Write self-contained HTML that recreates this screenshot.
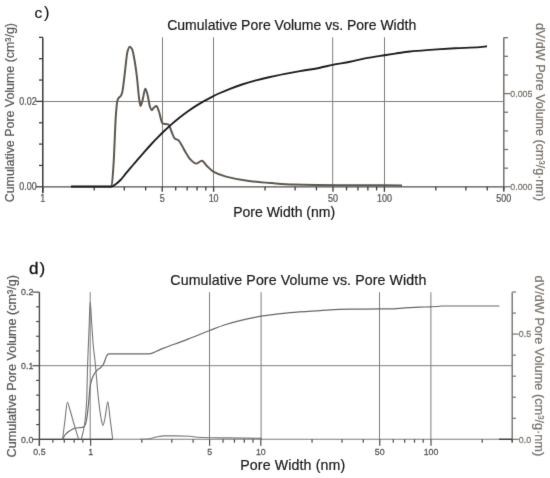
<!DOCTYPE html>
<html><head><meta charset="utf-8"><style>
html,body{margin:0;padding:0;background:#fff;}
svg{display:block;font-family:"Liberation Sans", sans-serif;}
</style></head><body>
<svg width="550" height="478" viewBox="0 0 550 478">
<defs><filter id="b" x="0" y="0" width="550" height="478" filterUnits="userSpaceOnUse" color-interpolation-filters="sRGB"><feConvolveMatrix order="3" kernelMatrix="1 10 1 10 100 10 1 10 1" divisor="144" edgeMode="duplicate"/></filter></defs>
<g filter="url(#b)">
<rect width="550" height="478" fill="#fff"/>
<line x1="162.50" y1="37.40" x2="162.50" y2="186.80" stroke="#7e7e7e" stroke-width="1"/>
<line x1="213.50" y1="37.40" x2="213.50" y2="186.80" stroke="#7e7e7e" stroke-width="1"/>
<line x1="332.70" y1="37.40" x2="332.70" y2="186.80" stroke="#7e7e7e" stroke-width="1"/>
<line x1="384.50" y1="37.40" x2="384.50" y2="186.80" stroke="#7e7e7e" stroke-width="1"/>
<line x1="42.80" y1="101.50" x2="503.80" y2="101.50" stroke="#7e7e7e" stroke-width="1"/>
<line x1="42.80" y1="37.40" x2="42.80" y2="193.30" stroke="#3a3a3a" stroke-width="1.5"/>
<line x1="35.80" y1="186.80" x2="42.80" y2="186.80" stroke="#3a3a3a" stroke-width="1.3"/>
<line x1="39.00" y1="165.45" x2="42.80" y2="165.45" stroke="#3a3a3a" stroke-width="1.3"/>
<line x1="39.00" y1="144.10" x2="42.80" y2="144.10" stroke="#3a3a3a" stroke-width="1.3"/>
<line x1="39.00" y1="122.75" x2="42.80" y2="122.75" stroke="#3a3a3a" stroke-width="1.3"/>
<line x1="35.80" y1="101.40" x2="42.80" y2="101.40" stroke="#3a3a3a" stroke-width="1.3"/>
<line x1="39.00" y1="80.05" x2="42.80" y2="80.05" stroke="#3a3a3a" stroke-width="1.3"/>
<line x1="39.00" y1="58.70" x2="42.80" y2="58.70" stroke="#3a3a3a" stroke-width="1.3"/>
<line x1="39.00" y1="37.35" x2="42.80" y2="37.35" stroke="#3a3a3a" stroke-width="1.3"/>
<line x1="503.80" y1="37.40" x2="503.80" y2="189.80" stroke="#77716b" stroke-width="1.5"/>
<line x1="503.80" y1="186.80" x2="510.30" y2="186.80" stroke="#77716b" stroke-width="1.3"/>
<line x1="503.80" y1="168.16" x2="508.00" y2="168.16" stroke="#77716b" stroke-width="1.3"/>
<line x1="503.80" y1="149.52" x2="508.00" y2="149.52" stroke="#77716b" stroke-width="1.3"/>
<line x1="503.80" y1="130.88" x2="508.00" y2="130.88" stroke="#77716b" stroke-width="1.3"/>
<line x1="503.80" y1="112.24" x2="508.00" y2="112.24" stroke="#77716b" stroke-width="1.3"/>
<line x1="503.80" y1="93.60" x2="510.30" y2="93.60" stroke="#77716b" stroke-width="1.3"/>
<line x1="503.80" y1="74.96" x2="508.00" y2="74.96" stroke="#77716b" stroke-width="1.3"/>
<line x1="503.80" y1="56.32" x2="508.00" y2="56.32" stroke="#77716b" stroke-width="1.3"/>
<line x1="503.80" y1="37.68" x2="508.00" y2="37.68" stroke="#77716b" stroke-width="1.3"/>
<line x1="42.80" y1="186.80" x2="503.80" y2="186.80" stroke="#505050" stroke-width="1.25"/>
<line x1="42.80" y1="186.80" x2="42.80" y2="191.80" stroke="#3a3a3a" stroke-width="1.3"/>
<line x1="94.22" y1="186.80" x2="94.22" y2="190.40" stroke="#3a3a3a" stroke-width="1.3"/>
<line x1="124.30" y1="186.80" x2="124.30" y2="190.40" stroke="#3a3a3a" stroke-width="1.3"/>
<line x1="145.64" y1="186.80" x2="145.64" y2="190.40" stroke="#3a3a3a" stroke-width="1.3"/>
<line x1="162.19" y1="186.80" x2="162.19" y2="191.80" stroke="#3a3a3a" stroke-width="1.3"/>
<line x1="175.71" y1="186.80" x2="175.71" y2="190.40" stroke="#3a3a3a" stroke-width="1.3"/>
<line x1="187.15" y1="186.80" x2="187.15" y2="190.40" stroke="#3a3a3a" stroke-width="1.3"/>
<line x1="197.05" y1="186.80" x2="197.05" y2="190.40" stroke="#3a3a3a" stroke-width="1.3"/>
<line x1="205.79" y1="186.80" x2="205.79" y2="190.40" stroke="#3a3a3a" stroke-width="1.3"/>
<line x1="213.61" y1="186.80" x2="213.61" y2="191.80" stroke="#3a3a3a" stroke-width="1.3"/>
<line x1="265.02" y1="186.80" x2="265.02" y2="190.40" stroke="#3a3a3a" stroke-width="1.3"/>
<line x1="295.10" y1="186.80" x2="295.10" y2="190.40" stroke="#3a3a3a" stroke-width="1.3"/>
<line x1="316.44" y1="186.80" x2="316.44" y2="190.40" stroke="#3a3a3a" stroke-width="1.3"/>
<line x1="332.99" y1="186.80" x2="332.99" y2="191.80" stroke="#3a3a3a" stroke-width="1.3"/>
<line x1="346.52" y1="186.80" x2="346.52" y2="190.40" stroke="#3a3a3a" stroke-width="1.3"/>
<line x1="357.95" y1="186.80" x2="357.95" y2="190.40" stroke="#3a3a3a" stroke-width="1.3"/>
<line x1="367.86" y1="186.80" x2="367.86" y2="190.40" stroke="#3a3a3a" stroke-width="1.3"/>
<line x1="376.60" y1="186.80" x2="376.60" y2="190.40" stroke="#3a3a3a" stroke-width="1.3"/>
<line x1="384.41" y1="186.80" x2="384.41" y2="191.80" stroke="#3a3a3a" stroke-width="1.3"/>
<line x1="435.83" y1="186.80" x2="435.83" y2="190.40" stroke="#3a3a3a" stroke-width="1.3"/>
<line x1="465.91" y1="186.80" x2="465.91" y2="190.40" stroke="#3a3a3a" stroke-width="1.3"/>
<line x1="487.25" y1="186.80" x2="487.25" y2="190.40" stroke="#3a3a3a" stroke-width="1.3"/>
<line x1="503.80" y1="186.80" x2="503.80" y2="191.80" stroke="#3a3a3a" stroke-width="1.3"/>
<text transform="translate(42.80,201.60) scale(0.88,1)" font-size="10.2" fill="#555" stroke="#555" stroke-width="0.25" text-anchor="middle">1</text>
<text transform="translate(162.19,201.60) scale(0.88,1)" font-size="10.2" fill="#555" stroke="#555" stroke-width="0.25" text-anchor="middle">5</text>
<text transform="translate(213.61,201.60) scale(0.88,1)" font-size="10.2" fill="#555" stroke="#555" stroke-width="0.25" text-anchor="middle">10</text>
<text transform="translate(332.99,201.60) scale(0.88,1)" font-size="10.2" fill="#555" stroke="#555" stroke-width="0.25" text-anchor="middle">50</text>
<text transform="translate(384.41,201.60) scale(0.88,1)" font-size="10.2" fill="#555" stroke="#555" stroke-width="0.25" text-anchor="middle">100</text>
<text transform="translate(503.80,201.60) scale(0.88,1)" font-size="10.2" fill="#555" stroke="#555" stroke-width="0.25" text-anchor="middle">500</text>
<text transform="translate(36.80,105.00) scale(0.88,1)" font-size="10.2" fill="#555" stroke="#555" stroke-width="0.25" text-anchor="end">0.02</text>
<text transform="translate(36.80,190.40) scale(0.88,1)" font-size="10.2" fill="#555" stroke="#555" stroke-width="0.25" text-anchor="end">0.00</text>
<text transform="translate(510.30,96.90) scale(0.95,1)" font-size="9.3" fill="#77716b" stroke="#77716b" stroke-width="0.25">0.005</text>
<text transform="translate(510.30,190.10) scale(0.95,1)" font-size="9.3" fill="#77716b" stroke="#77716b" stroke-width="0.25">0.000</text>
<text x="167.20" y="30.40" font-size="14" fill="#1a1a1a" stroke="#1a1a1a" stroke-width="0.2">Cumulative Pore Volume vs. Pore Width</text>
<text x="233.20" y="216.90" font-size="14" fill="#1a1a1a" stroke="#1a1a1a" stroke-width="0.2">Pore Width (nm)</text>
<text x="34.40" y="17.80" font-size="15.5" fill="#111" stroke="#111" stroke-width="0.15">c</text>
<text x="44.00" y="18.10" font-size="16.5" fill="#111" stroke="#111" stroke-width="0.1">)</text>
<text transform="translate(13.9,202.3) rotate(-90) scale(1.018,1)" x="0" y="0" font-size="12.2" fill="#555" stroke="#555" stroke-width="0.2">Cumulative Pore Volume (cm³/g)</text>
<text transform="translate(536.2,23.0) rotate(90) scale(1.03,1)" x="0" y="0" font-size="12.2" fill="#77716b" stroke="#77716b" stroke-width="0.2">dV/dW Pore Volume (cm³/g·nm)</text>
<path d="M71.00,186.50 C84.50,186.50 98.00,186.50 111.50,186.50 C112.17,186.50 112.83,174.37 113.50,165.00 C114.30,153.76 115.10,125.34 115.90,114.90 C116.37,108.81 116.83,102.63 117.30,101.00 C117.87,99.03 118.43,98.18 119.00,97.50 C119.60,96.79 120.20,96.77 120.80,96.00 C121.30,95.35 121.80,93.92 122.30,92.00 C122.87,89.83 123.43,84.43 124.00,80.00 C124.53,75.83 125.07,70.40 125.60,66.00 C126.20,61.05 126.80,54.09 127.40,52.00 C128.20,49.21 129.00,46.80 129.80,46.80 C130.53,46.80 131.27,47.82 132.00,49.00 C132.80,50.29 133.60,55.22 134.40,59.50 C135.20,63.78 136.00,69.59 136.80,76.00 C137.60,82.41 138.40,93.88 139.20,99.00 C139.67,101.98 140.13,106.00 140.60,106.00 C141.23,106.00 141.87,102.64 142.50,100.50 C143.43,97.34 144.37,88.80 145.30,88.80 C146.07,88.80 146.83,92.32 147.60,95.00 C148.40,97.80 149.20,104.82 150.00,107.00 C150.57,108.55 151.13,110.30 151.70,110.30 C152.47,110.30 153.23,108.13 154.00,107.50 C154.80,106.84 155.60,106.00 156.40,106.00 C157.20,106.00 158.00,108.99 158.80,111.00 C160.07,114.18 161.33,123.10 162.60,123.50 C164.53,124.11 166.47,123.78 168.40,124.40 C169.43,124.73 170.47,129.16 171.50,131.50 C172.50,133.76 173.50,137.32 174.50,138.20 C175.83,139.37 177.17,139.24 178.50,140.30 C179.67,141.23 180.83,143.85 182.00,145.80 C183.33,148.03 184.67,150.82 186.00,153.00 C187.33,155.18 188.67,157.63 190.00,159.00 C192.03,161.09 194.07,163.60 196.10,163.60 C198.00,163.60 199.90,160.80 201.80,160.80 C203.53,160.80 205.27,164.37 207.00,166.00 C209.10,167.98 211.20,170.40 213.30,171.60 C217.53,174.01 221.77,175.47 226.00,176.60 C233.67,178.64 241.33,180.05 249.00,181.00 C256.67,181.95 264.33,182.51 272.00,183.10 C279.00,183.64 286.00,184.27 293.00,184.50 C300.67,184.75 308.33,184.91 316.00,185.00 C324.00,185.10 332.00,185.20 340.00,185.20 C350.00,185.20 360.00,185.20 370.00,185.20 C380.67,185.20 391.33,185.33 402.00,185.40" fill="none" stroke="#5e5750" stroke-width="2"/>
<path d="M71.00,186.60 C84.50,186.60 98.00,186.60 111.50,186.60 C113.00,186.60 114.50,185.05 116.00,184.00 C117.50,182.95 119.00,181.54 120.50,180.00 C122.17,178.29 123.83,175.90 125.50,173.90 C127.33,171.70 129.17,169.57 131.00,167.40 C133.00,165.03 135.00,162.63 137.00,160.30 C139.33,157.59 141.67,154.93 144.00,152.30 C146.33,149.67 148.67,147.01 151.00,144.50 C153.33,141.99 155.67,139.56 158.00,137.20 C160.33,134.84 162.67,132.51 165.00,130.30 C167.33,128.09 169.67,125.93 172.00,123.90 C174.67,121.58 177.33,119.40 180.00,117.30 C182.67,115.20 185.33,113.19 188.00,111.30 C190.67,109.41 193.33,107.59 196.00,105.90 C198.67,104.21 201.33,102.61 204.00,101.10 C206.67,99.59 209.33,98.14 212.00,96.80 C214.67,95.46 217.33,94.19 220.00,93.00 C223.33,91.51 226.67,90.09 230.00,88.80 C234.00,87.25 238.00,85.79 242.00,84.50 C246.33,83.10 250.67,81.86 255.00,80.70 C260.00,79.36 265.00,78.12 270.00,77.00 C275.00,75.88 280.00,74.88 285.00,73.90 C290.00,72.92 295.00,71.99 300.00,71.10 C306.67,69.91 313.33,69.00 320.00,67.70 C324.20,66.88 328.40,65.74 332.60,64.90 C338.40,63.75 344.20,62.96 350.00,61.80 C355.00,60.80 360.00,59.36 365.00,58.40 C371.50,57.15 378.00,56.22 384.50,55.20 C388.00,54.65 391.50,54.11 395.00,53.60 C400.00,52.87 405.00,52.02 410.00,51.50 C416.67,50.81 423.33,50.38 430.00,49.90 C438.33,49.30 446.67,48.76 455.00,48.30 C463.33,47.84 471.67,47.71 480.00,47.10 C482.33,46.93 484.67,46.57 487.00,46.30" fill="none" stroke="#1e1e1e" stroke-width="1.9"/>
<line x1="90.20" y1="292.20" x2="90.20" y2="439.30" stroke="#7e7e7e" stroke-width="1"/>
<line x1="209.50" y1="292.20" x2="209.50" y2="439.30" stroke="#7e7e7e" stroke-width="1"/>
<line x1="261.10" y1="292.20" x2="261.10" y2="439.30" stroke="#7e7e7e" stroke-width="1"/>
<line x1="379.50" y1="292.20" x2="379.50" y2="439.30" stroke="#7e7e7e" stroke-width="1"/>
<line x1="430.90" y1="292.20" x2="430.90" y2="439.30" stroke="#7e7e7e" stroke-width="1"/>
<line x1="39.40" y1="365.70" x2="512.20" y2="365.70" stroke="#7e7e7e" stroke-width="1"/>
<line x1="39.40" y1="292.20" x2="39.40" y2="445.80" stroke="#4a4a4a" stroke-width="1.4"/>
<line x1="32.40" y1="439.30" x2="39.40" y2="439.30" stroke="#4a4a4a" stroke-width="1.2"/>
<line x1="36.10" y1="424.58" x2="39.40" y2="424.58" stroke="#4a4a4a" stroke-width="1.2"/>
<line x1="36.10" y1="409.86" x2="39.40" y2="409.86" stroke="#4a4a4a" stroke-width="1.2"/>
<line x1="36.10" y1="395.14" x2="39.40" y2="395.14" stroke="#4a4a4a" stroke-width="1.2"/>
<line x1="36.10" y1="380.42" x2="39.40" y2="380.42" stroke="#4a4a4a" stroke-width="1.2"/>
<line x1="32.40" y1="365.70" x2="39.40" y2="365.70" stroke="#4a4a4a" stroke-width="1.2"/>
<line x1="36.10" y1="350.98" x2="39.40" y2="350.98" stroke="#4a4a4a" stroke-width="1.2"/>
<line x1="36.10" y1="336.26" x2="39.40" y2="336.26" stroke="#4a4a4a" stroke-width="1.2"/>
<line x1="36.10" y1="321.54" x2="39.40" y2="321.54" stroke="#4a4a4a" stroke-width="1.2"/>
<line x1="36.10" y1="306.82" x2="39.40" y2="306.82" stroke="#4a4a4a" stroke-width="1.2"/>
<line x1="32.40" y1="292.10" x2="39.40" y2="292.10" stroke="#4a4a4a" stroke-width="1.2"/>
<line x1="512.20" y1="292.20" x2="512.20" y2="442.30" stroke="#77716b" stroke-width="1.4"/>
<line x1="512.20" y1="439.30" x2="518.70" y2="439.30" stroke="#77716b" stroke-width="1.2"/>
<line x1="512.20" y1="418.26" x2="516.00" y2="418.26" stroke="#77716b" stroke-width="1.2"/>
<line x1="512.20" y1="397.22" x2="516.00" y2="397.22" stroke="#77716b" stroke-width="1.2"/>
<line x1="512.20" y1="376.18" x2="516.00" y2="376.18" stroke="#77716b" stroke-width="1.2"/>
<line x1="512.20" y1="355.14" x2="516.00" y2="355.14" stroke="#77716b" stroke-width="1.2"/>
<line x1="512.20" y1="334.10" x2="518.70" y2="334.10" stroke="#77716b" stroke-width="1.2"/>
<line x1="512.20" y1="313.06" x2="516.00" y2="313.06" stroke="#77716b" stroke-width="1.2"/>
<line x1="512.20" y1="292.02" x2="516.00" y2="292.02" stroke="#77716b" stroke-width="1.2"/>
<line x1="39.40" y1="439.30" x2="512.20" y2="439.30" stroke="#7c7c7c" stroke-width="1.1"/>
<line x1="39.40" y1="439.30" x2="112.70" y2="439.30" stroke="#404040" stroke-width="1.35"/>
<line x1="499.00" y1="439.30" x2="512.20" y2="439.30" stroke="#404040" stroke-width="1.4"/>
<line x1="39.40" y1="439.30" x2="39.40" y2="445.80" stroke="#4a4a4a" stroke-width="1.2"/>
<line x1="52.88" y1="439.30" x2="52.88" y2="442.70" stroke="#4a4a4a" stroke-width="1.2"/>
<line x1="64.27" y1="439.30" x2="64.27" y2="442.70" stroke="#4a4a4a" stroke-width="1.2"/>
<line x1="74.14" y1="439.30" x2="74.14" y2="442.70" stroke="#4a4a4a" stroke-width="1.2"/>
<line x1="82.84" y1="439.30" x2="82.84" y2="442.70" stroke="#4a4a4a" stroke-width="1.2"/>
<line x1="90.63" y1="439.30" x2="90.63" y2="445.80" stroke="#4a4a4a" stroke-width="1.2"/>
<line x1="141.86" y1="439.30" x2="141.86" y2="442.70" stroke="#4a4a4a" stroke-width="1.2"/>
<line x1="171.83" y1="439.30" x2="171.83" y2="442.70" stroke="#4a4a4a" stroke-width="1.2"/>
<line x1="193.09" y1="439.30" x2="193.09" y2="442.70" stroke="#4a4a4a" stroke-width="1.2"/>
<line x1="209.59" y1="439.30" x2="209.59" y2="445.80" stroke="#4a4a4a" stroke-width="1.2"/>
<line x1="223.06" y1="439.30" x2="223.06" y2="442.70" stroke="#4a4a4a" stroke-width="1.2"/>
<line x1="234.45" y1="439.30" x2="234.45" y2="442.70" stroke="#4a4a4a" stroke-width="1.2"/>
<line x1="244.32" y1="439.30" x2="244.32" y2="442.70" stroke="#4a4a4a" stroke-width="1.2"/>
<line x1="253.03" y1="439.30" x2="253.03" y2="442.70" stroke="#4a4a4a" stroke-width="1.2"/>
<line x1="260.82" y1="439.30" x2="260.82" y2="445.80" stroke="#4a4a4a" stroke-width="1.2"/>
<line x1="312.05" y1="439.30" x2="312.05" y2="442.70" stroke="#4a4a4a" stroke-width="1.2"/>
<line x1="342.01" y1="439.30" x2="342.01" y2="442.70" stroke="#4a4a4a" stroke-width="1.2"/>
<line x1="363.28" y1="439.30" x2="363.28" y2="442.70" stroke="#4a4a4a" stroke-width="1.2"/>
<line x1="379.77" y1="439.30" x2="379.77" y2="445.80" stroke="#4a4a4a" stroke-width="1.2"/>
<line x1="393.25" y1="439.30" x2="393.25" y2="442.70" stroke="#4a4a4a" stroke-width="1.2"/>
<line x1="404.64" y1="439.30" x2="404.64" y2="442.70" stroke="#4a4a4a" stroke-width="1.2"/>
<line x1="414.51" y1="439.30" x2="414.51" y2="442.70" stroke="#4a4a4a" stroke-width="1.2"/>
<line x1="423.21" y1="439.30" x2="423.21" y2="442.70" stroke="#4a4a4a" stroke-width="1.2"/>
<line x1="431.00" y1="439.30" x2="431.00" y2="445.80" stroke="#4a4a4a" stroke-width="1.2"/>
<line x1="482.23" y1="439.30" x2="482.23" y2="442.70" stroke="#4a4a4a" stroke-width="1.2"/>
<line x1="512.20" y1="439.30" x2="512.20" y2="442.70" stroke="#4a4a4a" stroke-width="1.2"/>
<text transform="translate(39.40,455.10) scale(0.95,1)" font-size="9.3" fill="#555" stroke="#555" stroke-width="0.25" text-anchor="middle">0.5</text>
<text transform="translate(90.63,455.10) scale(0.95,1)" font-size="9.3" fill="#555" stroke="#555" stroke-width="0.25" text-anchor="middle">1</text>
<text transform="translate(209.59,455.10) scale(0.95,1)" font-size="9.3" fill="#555" stroke="#555" stroke-width="0.25" text-anchor="middle">5</text>
<text transform="translate(260.82,455.10) scale(0.95,1)" font-size="9.3" fill="#555" stroke="#555" stroke-width="0.25" text-anchor="middle">10</text>
<text transform="translate(379.77,455.10) scale(0.95,1)" font-size="9.3" fill="#555" stroke="#555" stroke-width="0.25" text-anchor="middle">50</text>
<text transform="translate(431.00,455.10) scale(0.95,1)" font-size="9.3" fill="#555" stroke="#555" stroke-width="0.25" text-anchor="middle">100</text>
<text transform="translate(33.30,295.40) scale(0.95,1)" font-size="9.3" fill="#555" stroke="#555" stroke-width="0.25" text-anchor="end">0.2</text>
<text transform="translate(33.30,369.00) scale(0.95,1)" font-size="9.3" fill="#555" stroke="#555" stroke-width="0.25" text-anchor="end">0.1</text>
<text transform="translate(33.30,442.60) scale(0.95,1)" font-size="9.3" fill="#555" stroke="#555" stroke-width="0.25" text-anchor="end">0.0</text>
<text transform="translate(518.80,337.40) scale(0.95,1)" font-size="9.3" fill="#77716b" stroke="#77716b" stroke-width="0.25">0.5</text>
<text transform="translate(518.80,442.60) scale(0.95,1)" font-size="9.3" fill="#77716b" stroke="#77716b" stroke-width="0.25">0.0</text>
<text x="170.30" y="284.60" font-size="14.2" fill="#1a1a1a" stroke="#1a1a1a" stroke-width="0.2" textLength="256" lengthAdjust="spacing">Cumulative Pore Volume vs. Pore Width</text>
<text x="240.20" y="469.60" font-size="14.2" fill="#1a1a1a" stroke="#1a1a1a" stroke-width="0.2" textLength="105" lengthAdjust="spacing">Pore Width (nm)</text>
<text x="28.90" y="273.80" font-size="17" fill="#111" stroke="#111" stroke-width="0.3">d</text>
<text x="39.40" y="274.20" font-size="17" fill="#111" stroke="#111" stroke-width="0.25">)</text>
<text transform="translate(15.6,457.4) rotate(-90) scale(1.036,1)" x="0" y="0" font-size="12.2" fill="#555" stroke="#555" stroke-width="0.2">Cumulative Pore Volume (cm³/g)</text>
<text transform="translate(535.2,275.6) rotate(90) scale(1.046,1)" x="0" y="0" font-size="12.2" fill="#77716b" stroke="#77716b" stroke-width="0.2">dV/dW Pore Volume (cm³/g·nm)</text>
<path d="M62.60,439.20 C63.40,437.80 64.20,436.01 65.00,435.00 C66.10,433.61 67.20,432.59 68.30,431.80 C70.37,430.31 72.43,428.87 74.50,428.40 C76.33,427.98 78.17,427.84 80.00,427.60 C81.13,427.45 82.27,427.47 83.40,427.20 C84.10,427.04 84.80,425.65 85.50,424.00 C86.00,422.82 86.50,420.03 87.00,417.00 C87.50,413.97 88.00,408.76 88.50,404.00 C89.07,398.61 89.63,389.24 90.20,386.00 C90.80,382.57 91.40,380.71 92.00,379.00 C92.83,376.62 93.67,374.83 94.50,373.50 C95.50,371.91 96.50,370.67 97.50,369.80 C98.50,368.93 99.50,368.64 100.50,367.80 C101.33,367.10 102.17,366.28 103.00,365.00 C103.70,363.92 104.40,361.77 105.10,360.00 C105.60,358.74 106.10,356.79 106.60,356.00 C107.23,354.99 107.87,353.90 108.50,353.90 C122.17,353.80 135.83,353.88 149.50,353.80 C153.00,353.78 156.50,350.98 160.00,349.60 C163.33,348.28 166.67,346.90 170.00,345.70 C171.67,345.10 173.33,344.59 175.00,344.00 C180.67,341.98 186.33,339.71 192.00,337.50 C197.87,335.21 203.73,332.77 209.60,330.50 C214.73,328.52 219.87,326.32 225.00,324.70 C230.00,323.12 235.00,321.82 240.00,320.60 C245.00,319.38 250.00,318.29 255.00,317.30 C257.00,316.91 259.00,316.51 261.00,316.20 C270.67,314.71 280.33,313.44 290.00,312.60 C300.00,311.73 310.00,311.23 320.00,310.60 C326.67,310.18 333.33,309.56 340.00,309.40 C346.67,309.24 353.33,309.18 360.00,309.10 C366.47,309.02 372.93,308.90 379.40,308.90 C382.93,308.90 386.47,308.90 390.00,308.90 C395.00,308.90 400.00,308.17 405.00,307.90 C410.00,307.63 415.00,307.40 420.00,307.20 C423.67,307.05 427.33,306.96 431.00,306.80 C433.00,306.71 435.00,306.63 437.00,306.50 C438.67,306.39 440.33,306.00 442.00,306.00 C461.13,306.00 480.27,306.00 499.40,306.00" fill="none" stroke="#666" stroke-width="1.2"/>
<path d="M62.60,439.20 C63.40,432.80 64.20,426.14 65.00,420.00 C65.80,413.86 66.60,402.30 67.40,402.30 C68.27,402.30 69.13,407.24 70.00,410.00 C71.33,414.25 72.67,419.46 74.00,424.00 C75.53,429.22 77.07,434.13 78.60,439.20" fill="none" stroke="#7a7672" stroke-width="1.1"/>
<path d="M81.30,439.20 C82.37,434.47 83.43,432.00 84.50,425.00 C85.23,420.19 85.97,413.97 86.70,400.00 C87.00,394.29 87.30,374.28 87.60,365.00 C88.07,350.57 88.53,341.30 89.00,330.00 C89.40,320.32 89.80,301.80 90.20,301.80 C90.63,301.80 91.07,313.79 91.50,320.00 C92.07,328.12 92.63,338.75 93.20,345.00 C93.77,351.25 94.33,354.56 94.90,360.00 C96.13,371.84 97.37,389.22 98.60,400.00 C99.40,407.00 100.20,414.04 101.00,418.00 C101.67,421.30 102.33,425.50 103.00,425.50 C103.67,425.50 104.33,421.00 105.00,418.00 C105.93,413.80 106.87,401.80 107.80,401.80 C108.53,401.80 109.27,412.43 110.00,418.00 C110.90,424.83 111.80,432.13 112.70,439.20" fill="none" stroke="#7a7672" stroke-width="1.1"/>
<path d="M140.00,439.30 C142.67,439.20 145.33,439.17 148.00,439.00 C150.67,438.83 153.33,437.47 156.00,437.00 C158.67,436.53 161.33,435.90 164.00,435.90 C167.67,435.90 171.33,435.90 175.00,435.90 C180.00,435.90 185.00,436.06 190.00,436.30 C192.33,436.41 194.67,437.05 197.00,437.20 C201.33,437.47 205.67,437.61 210.00,437.70 C215.00,437.80 220.00,437.83 225.00,437.90 C237.33,438.07 249.67,438.23 262.00,438.40" fill="none" stroke="#7a7672" stroke-width="1.1"/>
</g>
</svg>
</body></html>
